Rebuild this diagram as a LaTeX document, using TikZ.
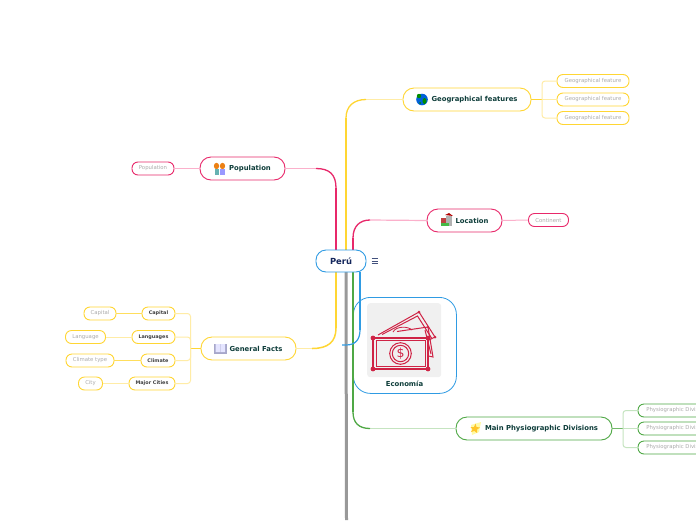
\documentclass[tikz,border=0pt]{standalone}
\usepackage{fontspec}
\setmainfont{DejaVu Sans}
\definecolor{yel}{HTML}{FFD633}
\definecolor{yell}{HTML}{FFECA6}
\definecolor{mag}{HTML}{E8286A}
\definecolor{magl}{HTML}{FBB0CB}
\definecolor{blu}{HTML}{2F9BE3}
\definecolor{grn}{HTML}{4FA845}
\definecolor{grnl}{HTML}{C5E4C0}
\definecolor{gry}{HTML}{999999}
\definecolor{txd}{HTML}{0E3D3A}
\definecolor{nav}{HTML}{13265C}
\definecolor{bill}{HTML}{CF2345}
\tikzset{
 base/.style={draw,fill=white,rounded corners=#1,inner sep=0pt,align=center,line width=.9pt},
 branch/.style={base=11pt,font=\fontsize{6.85}{7}\selectfont\bfseries,text=txd,minimum height=23pt},
 mid/.style={base=6pt,font=\fontsize{4.9}{6}\selectfont\bfseries,text=black!75,minimum height=13pt},
 leaf/.style={base=6pt,font=\fontsize{5.35}{6}\selectfont,text=black!33,minimum height=13pt},
 billline/.style={draw=bill,line width=1pt},
}
\begin{document}
\begin{tikzpicture}[x=1pt,y=-1pt]
\useasboundingbox (0,0) rectangle (696,520);
\clip (0,0) rectangle (696,520);
\fill[white] (0,0) rectangle (696,520);
% nodes
\node[base=17pt,draw=blu,line width=.8pt,minimum width=103pt,minimum height=96pt,anchor=north west] (eco) at (353,297) {};
\node[fill=black!6,rounded corners=3pt,minimum width=74pt,minimum height=74pt,inner sep=0pt,anchor=north west] (img) at (367,303) {};
\node[font=\fontsize{6.9}{7}\selectfont\bfseries,text=txd,inner sep=0pt] (ecot) at (404.5,383.7) {Economía};
% money
\begin{scope}[billline]
 \draw (378,335) -- (419,312) -- (435,337) -- (429,340);
 \draw (382,334.5) -- (417.5,316) -- (431.5,338);
 \draw (397,331.5) -- (428,327) -- (433,357) -- (428.5,356);
 \draw (425,330) -- (431,354);
 \draw[line width=.8pt] (393,332) .. controls (396,326) and (408,326) .. (412,330);
 \fill[bill] (419,312) circle (1.5) (435,337) circle (1.5) (428,327) circle (1.2);
 \draw[line width=1.2pt] (373,338) rectangle (428,369);
 \draw[line width=.6pt] (376,340.5) rectangle (425,366.5);
 \draw (400.5,353.5) circle (10.8);
 \draw (400.5,353.5) circle (8.2);
 \fill[bill] (373,338) circle (2.4) (428,338) circle (2.4) (373,369) circle (2.4) (428,369) circle (2.4);
\end{scope}
\node[font=\fontsize{12.5}{13}\selectfont,text=bill,inner sep=0pt] (dollar) at (400.5,353.5) {\$};
\node[branch,draw=yel,minimum width=128pt] (geo) at (467,99.5) {\hspace*{15pt}\raisebox{-.5pt}{Geographical features}};
\node[leaf,draw=yel,minimum width=72pt] (g1) at (593,81) {\raisebox{-.5pt}{Geographical feature}};
\node[leaf,draw=yel,minimum width=72pt] (g2) at (593,99.5) {\raisebox{-.5pt}{Geographical feature}};
\node[leaf,draw=yel,minimum width=72pt] (g3) at (593,118) {\raisebox{-.5pt}{Geographical feature}};
\node[branch,draw=mag,minimum width=75pt] (loc) at (464.5,220.5) {\hspace*{15pt}\raisebox{-.5pt}{Location}};
\node[leaf,draw=mag,minimum width=40pt] (cont) at (548.5,220) {\raisebox{-.5pt}{Continent}};
\node[branch,draw=mag,minimum width=85pt] (pop) at (242.5,168.5) {\hspace*{15pt}\raisebox{-.5pt}{Population}};
\node[leaf,draw=mag,minimum width=42pt] (popl) at (153,168.5) {\raisebox{-.5pt}{Population}};
\node[branch,draw=yel,minimum width=95pt] (gen) at (248.5,348.5) {\hspace*{15pt}\raisebox{-.5pt}{General Facts}};
\node[mid,draw=yel,minimum width=33pt] (m1) at (158.5,313.5) {Capital};
\node[mid,draw=yel,minimum width=43pt] (m2) at (153.5,337) {Languages};
\node[mid,draw=yel,minimum width=34pt] (m3) at (158,360.5) {Climate};
\node[mid,draw=yel,minimum width=46pt] (m4) at (152,383.5) {Major Cities};
\node[leaf,draw=yel,minimum width=32pt] (l1) at (100,313.5) {Capital};
\node[leaf,draw=yel,minimum width=40pt] (l2) at (85.5,337) {Language};
\node[leaf,draw=yel,minimum width=48pt] (l3) at (90,360.5) {Climate type};
\node[leaf,draw=yel,minimum width=24pt] (l4) at (90.5,383.5) {City};
\node[branch,draw=grn,minimum width=156pt] (phy) at (534,428.5) {\hspace*{15pt}\raisebox{-.5pt}{Main Physiographic Divisions}};
\node[leaf,draw=grn,minimum width=77pt] (p1) at (676.5,410.5) {Physiographic Division};
\node[leaf,draw=grn,minimum width=77pt] (p2) at (676.5,428.5) {Physiographic Division};
\node[leaf,draw=grn,minimum width=77pt] (p3) at (676.5,447.5) {Physiographic Division};
% trunk anchors
\coordinate (root) at (341,261);
\coordinate (a1) at (346,250);
\coordinate (a2) at (353,250);
\coordinate (a3) at (336,250);
\coordinate (a4) at (336,272);
\coordinate (a5) at (346,272);
\coordinate (a6) at (353,272);
\coordinate (a7) at (360,272);
\coordinate (bluend) at (342,345);
\coordinate (gend) at (346.5,520);
% gray
\draw[gry,line width=3pt] (a5) -- (gend);
% green
\draw[grnl,line width=1.2pt] (368,428.5) -- (phy.west);
\draw[grn,line width=2.2pt] (a6) -- (353,412);
\draw[grn,line width=1.3pt] (353,412) .. controls (353,423) and (359,428.5) .. (370,428.5);
% blue
\draw[blu,line width=2.2pt] (a7) -- (360,330);
\draw[blu,line width=1.2pt] (360,330) .. controls (360,340) and (355,345) .. (346,345) -- (bluend);
% yellow left
\draw[yell,line width=1.2pt] (gen.east) -- (312,348.5);
\draw[yel,line width=2.8pt] (a4) -- (336,328);
\draw[yel,line width=1.5pt] (336,328) .. controls (336,342) and (328,348.5) .. (312,348.5);
% magenta left
\draw[magl,line width=1.2pt] (pop.east) -- (318,168.5);
\draw[mag,line width=2.8pt] (a3) -- (336,188);
\draw[mag,line width=1.3pt] (336,188) .. controls (336,175) and (330,168.5) .. (316,168.5);
% yellow right
\draw[yell,line width=1.2pt] (364,99.5) -- (geo.west);
\draw[yel,line width=2.8pt] (a1) -- (346,118);
\draw[yel,line width=1.3pt] (346,118) .. controls (346,106) and (354,99.5) .. (366,99.5);
% magenta right
\draw[magl,line width=1.2pt] (370,220) -- (loc.west);
\draw[mag,line width=2.8pt] (a2) -- (353,238);
\draw[mag,line width=1.3pt] (353,238) .. controls (353,226) and (360,220) .. (370,220);
% sub branches geo
\draw[yel,line width=1pt] (geo.east) -- (542,99.5);
\draw[yell,line width=1pt] (542,99.5) -- (g2.west);
\draw[yell,line width=1pt,rounded corners=3pt] (g1.west) -- (542,81) -- (542,118) -- (g3.west);
% others
\draw[magl,line width=1pt] (loc.east) -- (cont.west);
\draw[magl,line width=1pt] (pop.west) -- (popl.east);
\draw[yel,line width=1pt] (gen.west) -- (190.5,348.5);
\draw[yell,line width=1pt,rounded corners=3pt] (m1.east) -- (190.5,313.5) -- (190.5,383.5) -- (m4.east);
\draw[yell,line width=1pt,rounded corners=3pt] (m2.east) -- (190.5,337) -- (190.5,360.5) -- (m3.east);
\draw[yel!80,line width=.7pt] (m1.west) -- (l1.east);
\draw[yell,line width=1pt] (m2.west) -- (l2.east);
\draw[yel!80,line width=.7pt] (m3.west) -- (l3.east);
\draw[yell,line width=1pt] (m4.west) -- (l4.east);
\draw[grn!80,line width=1.2pt] (phy.east) -- (623,428.5);
\draw[grnl,line width=1pt] (623,428.5) -- (p2.west);
\draw[grnl,line width=1pt,rounded corners=3pt] (p1.west) -- (623,410.5) -- (623,447.5) -- (p3.west);
% root
\node[base=10pt,draw=blu,font=\fontsize{8.4}{9}\selectfont\bfseries,text=nav,minimum width=50pt,minimum height=22pt] (peru) at (root) {Perú};
% menu icon
\draw[nav!80,line width=.6pt] (371.5,258.5) -- (377.5,258.5) (371.5,261) -- (377.5,261) (371.5,263.5) -- (377.5,263.5);
% globe
\fill[blue!55!cyan!85!black] (422,99.5) circle (5.8);
\fill[green!55!black] (419,96) circle (2.2) (424.5,101) ellipse (2 and 3) (420,103) circle (1);
% location icon
\fill[red!50!gray] (441,218) rectangle (446,225);
\fill[gray!60] (446,216) rectangle (452,226);
\fill[red!70!black] (445,215) -- (449,213) -- (453,216) -- cycle;
\fill[green!45!gray] (441,223) rectangle (449,226);
% population icon
\fill[orange!70!brown] (216.5,166) ellipse (2.6 and 3.2) (222.5,166) ellipse (2.6 and 3.2);
\fill[teal!60] (214.5,169) rectangle (219,174.5);
\fill[blue!40] (219.5,169) rectangle (225,174.5);
% book icon
\fill[blue!25!gray!55] (214,343.5) rectangle (226.5,353.5);
\fill[white!90!blue] (215.5,344) rectangle (220,352) (220.6,344) rectangle (225,352);
% star icon
\fill[yellow!35] (471,425) -- (481,422) -- (479,432) -- (472,435) -- cycle;
\fill[yel!80!orange] (475.5,423.5) -- (476.5,427) -- (480,427.5) -- (477,429.5) -- (477,433) -- (474.5,431) -- (471,432) -- (472.5,429) -- (470.5,427) -- (474,427) -- cycle;
\end{tikzpicture}
\end{document}
